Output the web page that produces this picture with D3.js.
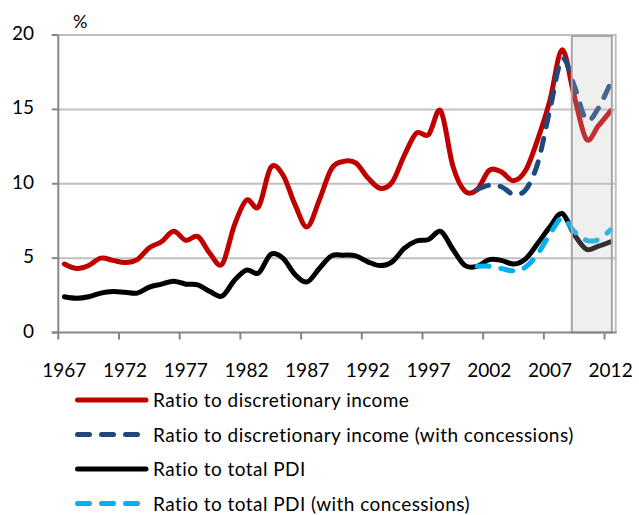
<!DOCTYPE html>
<html>
<head>
<meta charset="utf-8">
<script src="https://cdn.jsdelivr.net/npm/d3@7"></script>
<style>
  html, body { margin: 0; padding: 0; background: #fff; }
  svg { display: block; }
  text { font-family: Lato, "Open Sans", sans-serif; fill: #000; }
</style>
</head>
<body>
<svg id="chart" width="639" height="515"></svg>
<script>
// ---------- data ----------
const years = [1967,1968,1969,1970,1971,1972,1973,1974,1975,1976,1977,1978,1979,1980,
  1981,1982,1983,1984,1985,1986,1987,1988,1989,1990,1991,1992,1993,1994,1995,1996,
  1997,1998,1999,2000,2001,2002,2003,2004,2005,2006,2007,2008,2009,2010,2011,2012];

const discretionary = [4.6,4.3,4.5,5.0,4.85,4.7,4.9,5.7,6.1,6.8,6.2,6.45,5.3,4.6,
  7.2,8.9,8.45,11.1,10.6,8.6,7.1,8.9,11.0,11.5,11.4,10.4,9.7,10.1,11.9,13.4,
  13.3,14.9,11.2,9.5,9.6,10.9,10.8,10.2,10.9,13.0,15.6,19.0,15.9,13.0,13.9,14.9];

const concYears = [2001,2002,2003,2004,2005,2006,2007,2008,2009,2010,2011,2012];
const discretionaryConc = [9.6,9.9,9.8,9.3,9.6,11.4,15.0,18.4,16.6,14.3,15.1,16.8];

const totalPDI = [2.4,2.3,2.4,2.65,2.75,2.7,2.65,3.05,3.25,3.45,3.25,3.2,2.75,2.45,
  3.5,4.2,4.0,5.25,5.0,3.9,3.4,4.3,5.15,5.2,5.15,4.75,4.5,4.75,5.65,6.15,
  6.25,6.8,5.6,4.5,4.45,4.9,4.85,4.6,4.95,6.0,7.1,8.0,6.6,5.6,5.8,6.1];

const totalPDIConc = [4.45,4.45,4.3,4.15,4.4,5.3,6.6,7.7,6.8,6.2,6.25,6.9];

const xTickLabels = ["1967","1972","1977","1982","1987","1992","1997","2002","2007","2012"];
const yTicks = [0, 5, 10, 15, 20];
const shadeRange = [2008.8, 2012.1];

const seriesNames = [
  "Ratio to discretionary income",
  "Ratio to discretionary income (with concessions)",
  "Ratio to total PDI",
  "Ratio to total PDI (with concessions)"
];

// ---------- layout ----------
const svg = d3.select("#chart");
const pLeft = 58.3, pRight = 616.7, pTop = 35, pBottom = 332.5;

const x = d3.scaleBand().domain(years).range([pLeft, pRight]).paddingInner(0).paddingOuter(0);
const bw = x.bandwidth();
const xc = yr => x(yr) + bw / 2;
const xLin = d3.scaleLinear().domain([years[0] - 0.5, years[years.length - 1] + 0.5]).range([pLeft, pRight]);
const y = d3.scaleLinear().domain([0, 20]).range([pBottom, pTop]);

const gridColor = "#c0c0c0", axisColor = "#868686";

// gridlines
svg.append("g").selectAll("line").data(yTicks.filter(d => d > 0)).join("line")
  .attr("x1", pLeft).attr("x2", pRight)
  .attr("y1", d => y(d)).attr("y2", d => y(d))
  .attr("stroke", gridColor).attr("stroke-width", 2);

// right border of plot area
svg.append("line").attr("x1", pRight - 1).attr("x2", pRight - 1)
  .attr("y1", pTop).attr("y2", pBottom)
  .attr("stroke", gridColor).attr("stroke-width", 2);

// series
const series = [
  { name: seriesNames[0], xs: years, vals: discretionary, color: "#c00000", dash: null },
  { name: seriesNames[1], xs: concYears, vals: discretionaryConc, color: "#1f497d", dash: "12,12" },
  { name: seriesNames[2], xs: years, vals: totalPDI, color: "#000000", dash: null },
  { name: seriesNames[3], xs: concYears, vals: totalPDIConc, color: "#00b0f0", dash: "12,12" }
];

const line = d3.line().curve(d3.curveCardinal.tension(0))
  .x(d => xc(d[0])).y(d => y(d[1]));

svg.append("g").selectAll("path").data(series).join("path")
  .attr("d", s => line(s.xs.map((yr, i) => [yr, s.vals[i]])))
  .attr("fill", "none")
  .attr("stroke", s => s.color)
  .attr("stroke-width", 5)
  .attr("stroke-linecap", "round")
  .attr("stroke-linejoin", "round")
  .attr("stroke-dasharray", s => s.dash);

// shaded region
svg.append("rect")
  .attr("x", xLin(shadeRange[0])).attr("y", pTop + 1)
  .attr("width", xLin(shadeRange[1]) - xLin(shadeRange[0]))
  .attr("height", pBottom - pTop - 1)
  .attr("fill", "#bfbfbf").attr("fill-opacity", 0.25)
  .attr("stroke", "#a6a6a6").attr("stroke-width", 2);

// y axis
svg.append("line").attr("x1", pLeft).attr("x2", pLeft).attr("y1", pTop).attr("y2", pBottom)
  .attr("stroke", axisColor).attr("stroke-width", 2);
const yt = svg.append("g");
yt.selectAll("line").data(yTicks).join("line")
  .attr("x1", pLeft - 6.5).attr("x2", pLeft).attr("y1", d => y(d)).attr("y2", d => y(d))
  .attr("stroke", axisColor).attr("stroke-width", 2);
yt.selectAll("text").data(yTicks).join("text")
  .attr("x", 34).attr("y", d => y(d) + 5)
  .attr("text-anchor", "end").attr("font-size", 19)
  .text(d => d);

// x axis
svg.append("line").attr("x1", pLeft - 6.5).attr("x2", pRight).attr("y1", pBottom).attr("y2", pBottom)
  .attr("stroke", axisColor).attr("stroke-width", 2);
const xt = svg.append("g");
xt.selectAll("line").data(xTickLabels).join("line")
  .attr("x1", d => x(+d)).attr("x2", d => x(+d))
  .attr("y1", pBottom).attr("y2", pBottom + 7)
  .attr("stroke", axisColor).attr("stroke-width", 2);
xt.selectAll("text").data(xTickLabels).join("text")
  .attr("x", d => xc(+d)).attr("y", 376.5)
  .attr("text-anchor", "middle").attr("font-size", 19)
  .text(d => d);

// unit label
svg.append("text").attr("x", 73).attr("y", 28).attr("font-size", 18).text("%");

// legend
const leg = svg.append("g").selectAll("g").data(series).join("g")
  .attr("transform", (d, i) => `translate(0, ${400 + i * 34.5})`);
leg.append("line")
  .attr("x1", 77.5).attr("x2", 146)
  .attr("y1", 0).attr("y2", 0)
  .attr("stroke", d => d.color).attr("stroke-width", 5)
  .attr("stroke-linecap", "round")
  .attr("stroke-dasharray", d => d.dash);
leg.append("text").attr("x", 153).attr("y", 7.3)
  .attr("font-size", 19).attr("letter-spacing", 0.45).text(d => d.name);
</script>
</body>
</html>
